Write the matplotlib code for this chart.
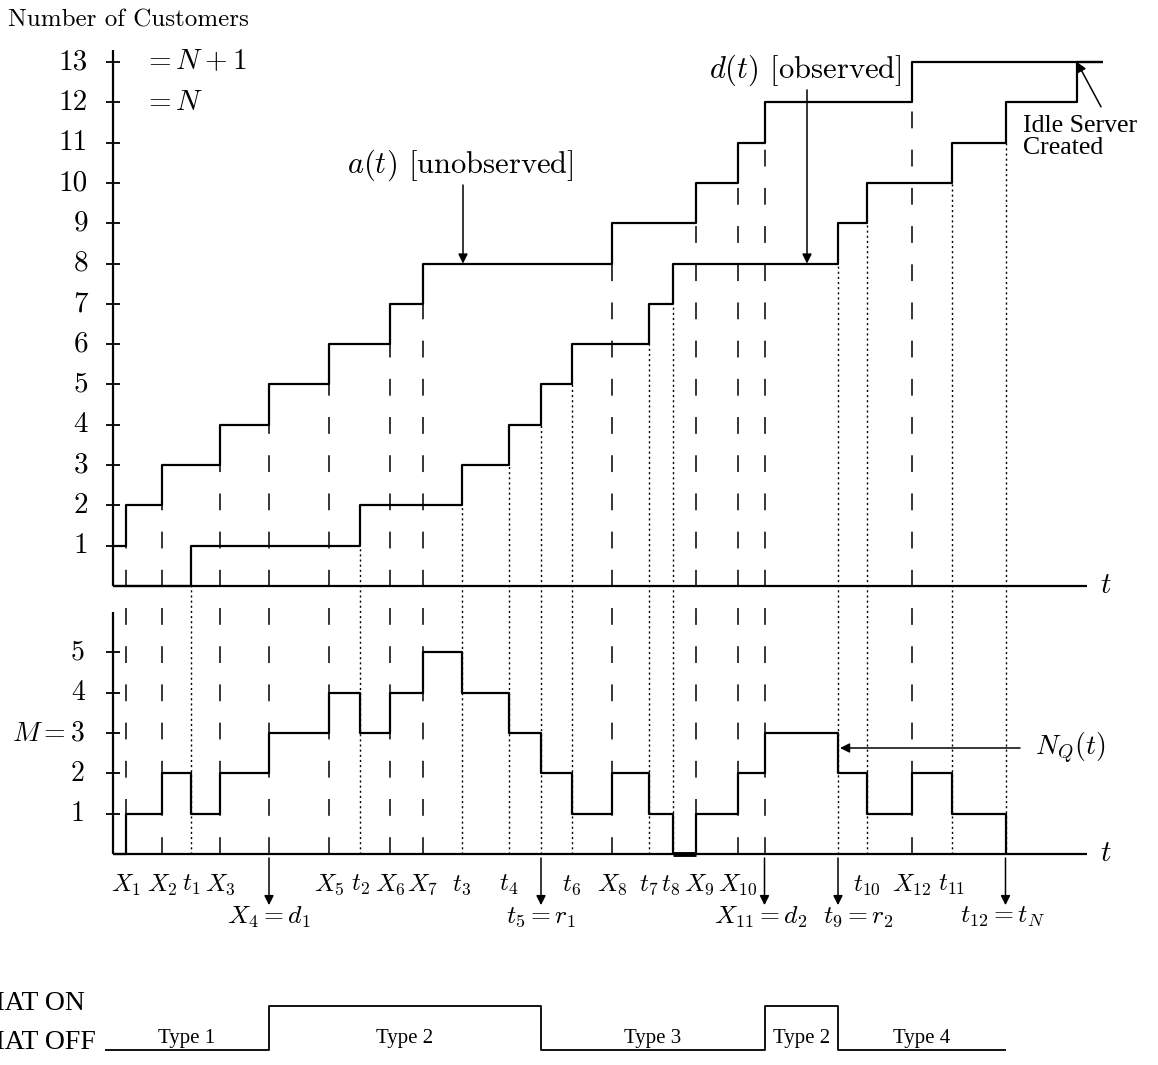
import matplotlib.pyplot as plt

plt.rcParams['font.family'] = 'serif'
plt.rcParams['font.serif'] = ['cmr10']
plt.rcParams['mathtext.fontset'] = 'cm'
plt.rcParams['axes.formatter.use_mathtext'] = True

# arrival epochs X_1..X_12 and service completion epochs t_1..t_12
arrivals = [13.5, 49, 107, 156, 216, 277, 310, 499, 583, 625, 651.5, 798.5]
completions = [78, 247, 349, 396, 428, 459, 536, 560, 725, 754, 838.5, 892.5]
arr_names = ['X_1', 'X_2', 'X_3', 'X_4', 'X_5', 'X_6', 'X_7', 'X_8', 'X_9', 'X_{10}', 'X_{11}', 'X_{12}']
comp_names = ['t_1', 't_2', 't_3', 't_4', 't_5', 't_6', 't_7', 't_8', 't_9', 't_{10}', 't_{11}', 't_{12}']

# cumulative counts
a_counts = [1, 2, 3, 4, 5, 6, 7, 8, 9, 10, 11, 12, 13]
d_counts = [0, 1, 2, 3, 4, 5, 6, 7, 8, 9, 10, 11, 12, 13]
idle_time = 964
t_end = 990
axis_end = 974

# queue length after each event (time order)
nq_values = [0, 1, 2, 1, 2, 3, 4, 3, 4, 5, 4, 3, 2, 1, 2, 1, 0, 1, 2, 3, 2, 1, 2, 1, 0]

# marked epochs (arrow below the time axis), label text and sideways nudge
marked = {'X_4': ('X_4 = d_1', 0), 't_5': ('t_5 = r_1', 0), 'X_{11}': ('X_{11} = d_2', -4),
          't_9': ('t_9 = r_2', 20), 't_{12}': ('t_{12} = t_N', -3)}
# small sideways nudges for crowded labels
label_nudge = {'t_8': -2, 'X_9': 3}

# MAT on/off periods
mat_start = -8
mat_on = [0, 1, 0, 1, 0]
mat_types = ['Type 1', 'Type 2', 'Type 3', 'Type 2', 'Type 4']

BOT0 = -6.65       # baseline of the lower panel
MAT_OFF = -11.51
MAT_ON = -10.42

fig = plt.figure(figsize=(11.58, 10.65), dpi=100)
ax = fig.add_axes([0, 0, 1, 1])
ax.set_xlim(-113, 1045)
ax.set_ylim(-11.886, 14.541)
ax.axis('off')

k = dict(color='black', solid_capstyle='butt')
dash = dict(color='black', lw=1.1, linestyle=(0, (11, 14)))
dot = dict(color='black', lw=1.0, linestyle=(0, (1.5, 2.2)))

# vertical guide lines
ax.vlines(arrivals, BOT0, a_counts[:-1], **dash)
ax.vlines(completions, BOT0, d_counts[:12], **dot)

# upper panel: a(t) and d(t)
ax.step([0] + arrivals + [t_end], a_counts + [a_counts[-1]], where='post', lw=1.6, **k)
ax.step([0] + completions + [idle_time, t_end], d_counts + [d_counts[-1]], where='post', lw=1.6, **k)

# lower panel: N_Q(t)
events = sorted(arrivals + completions)
ax.step([0] + events, [BOT0 + v for v in nq_values], where='post', lw=1.6, **k)
for i in range(1, len(events) - 1):
    if nq_values[i] == 0:
        ax.plot([events[i - 1], events[i]], [BOT0, BOT0], lw=3.5, **k)

# axes
ax.plot([0, 0], [0, 13.3], lw=1.6, **k)
ax.plot([0, axis_end], [0, 0], lw=1.6, **k)
ax.plot([0, 0], [BOT0, BOT0 + 6.0], lw=1.6, **k)
ax.plot([0, axis_end], [BOT0, BOT0], lw=1.6, **k)
for v in range(1, 14):
    ax.plot([-7, 7], [v, v], lw=1.3, **k)
    ax.text(-25, v, str(v), ha='right', va='center', fontsize=21)
for v in range(1, 6):
    ax.plot([-7, 7], [BOT0 + v, BOT0 + v], lw=1.3, **k)
    lab = '$M = 3$' if v == 3 else str(v)
    ax.text(-28, BOT0 + v, lab, ha='right', va='center', fontsize=20)
ax.text(993, 0, '$t$', ha='center', va='center', fontsize=21)
ax.text(993, BOT0, '$t$', ha='center', va='center', fontsize=21)

ax.text(-105, 14.04, 'Number of Customers', ha='left', va='center', fontsize=18)
ax.text(30, 13, '$= N + 1$', ha='left', va='center', fontsize=21)
ax.text(30, 12, '$= N$', ha='left', va='center', fontsize=21)

# annotations
arrow = dict(arrowstyle='-|>', color='black', lw=1.1, mutation_scale=14, shrinkA=0, shrinkB=0)
ax.text(347, 10.45, '$a(t)$ [unobserved]', ha='center', va='center', fontsize=22)
ax.annotate('', xy=(350, a_counts[7]), xytext=(350, 9.95), arrowprops=arrow)
ax.text(692, 12.8, '$d(t)$ [observed]', ha='center', va='center', fontsize=22)
ax.annotate('', xy=(694, d_counts[8]), xytext=(694, 12.31), arrowprops=arrow)
ax.text(910, 11.14, 'Idle Server\nCreated', ha='left', va='center', fontsize=18.5,
        family='Liberation Serif', linespacing=0.95)
ax.annotate('', xy=(idle_time, d_counts[13]), xytext=(988, 11.89), arrowprops=arrow)
ax.text(922, BOT0 + 2.63, '$N_Q(t)$', ha='left', va='center', fontsize=20)
ax.annotate('', xy=(completions[8] + 2, BOT0 + 2.63), xytext=(907, BOT0 + 2.63), arrowprops=arrow)

# event labels under the time axis
for x, name in list(zip(arrivals, arr_names)) + list(zip(completions, comp_names)):
    if name in marked:
        text, nudge = marked[name]
        ax.annotate('', xy=(x, -7.92), xytext=(x, BOT0 - 0.1), arrowprops=arrow)
        ax.text(x + nudge, -8.21, '$' + text + '$', ha='center', va='center', fontsize=18.5)
    else:
        ax.text(x + label_nudge.get(name, 0), -7.42, '$' + name + '$', ha='center', va='center',
                fontsize=18)

# MAT on/off indicator
mat_times = [mat_start, arrivals[3], completions[4], arrivals[10], completions[8], completions[11]]
mat_y = [MAT_ON if s else MAT_OFF for s in mat_on]
ax.step(mat_times, mat_y + [mat_y[-1]], where='post', lw=1.3, **k)
for i, typ in enumerate(mat_types):
    ax.text((mat_times[i] + mat_times[i + 1]) / 2, -11.24, typ, ha='center', va='center',
            fontsize=15, family='Liberation Serif')
ax.text(-133, -10.35, 'MAT ON', ha='left', va='center', fontsize=20, family='Liberation Serif')
ax.text(-133, MAT_OFF + 0.03, 'MAT OFF', ha='left', va='baseline', fontsize=20, family='Liberation Serif')

fig.savefig('out.png', dpi=100)
